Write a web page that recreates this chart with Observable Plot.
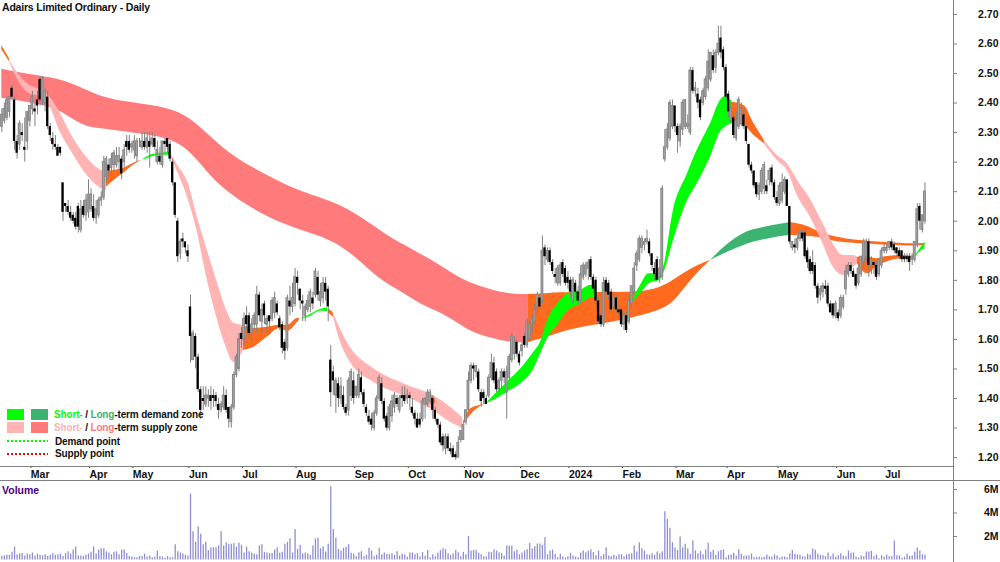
<!DOCTYPE html>
<html><head><meta charset="utf-8">
<script src="https://cdn.jsdelivr.net/npm/d3@7"></script>
<script src="https://cdn.jsdelivr.net/npm/@observablehq/plot@0.6"></script>
<style>
html,body{margin:0;padding:0;background:#fff;width:1000px;height:562px;overflow:hidden}
#wrap{position:relative;width:1000px;height:562px;font:bold 10px "Liberation Sans",Arial,sans-serif;color:#111}
#wrap svg{display:block;background:transparent}
.abs{position:absolute;white-space:nowrap;line-height:12px}
.sw{position:absolute;width:17px;height:11px}
.dot{position:absolute;width:41px;height:2px}
</style></head><body><div id="wrap"></div>
<script>
const title = "Adairs Limited Ordinary - Daily";
const monthLabels = ["Mar","Apr","May","Jun","Jul","Aug","Sep","Oct","Nov","Dec","2024","Feb","Mar","Apr","May","Jun","Jul"];
const monthBars = [11,34,51,73,94,115,138,159,181,203,222,243,264,284,304,327,346];
const priceTicks = [1.2,1.3,1.4,1.5,1.6,1.7,1.8,1.9,2.0,2.1,2.2,2.3,2.4,2.5,2.6,2.7];
const volumeTicks = [2,4,6];

const opens = [
2.32,2.34,2.35,2.37,2.45,2.41,2.27,2.26,2.30,2.25,2.27,
2.34,2.38,2.38,2.41,2.48,2.41,2.40,2.42,2.32,2.28,2.26,2.25,2.25,2.13,2.06,2.05,2.03,2.02,2.01,2.05,1.97,2.05,2.02,
2.03,2.04,2.05,2.01,2.02,2.07,2.08,2.15,2.19,2.18,2.19,2.19,2.20,2.21,2.20,2.27,2.27,
2.25,2.24,2.22,2.27,2.25,2.27,2.25,2.27,2.26,2.28,2.20,2.22,2.19,2.27,2.28,2.26,2.20,2.13,2.00,1.89,1.94,1.93,
1.90,1.71,1.53,1.61,1.54,1.43,1.40,1.38,1.40,1.41,1.41,1.41,1.38,1.36,1.37,1.41,1.37,1.32,1.37,1.48,1.50,
1.62,1.60,1.68,1.68,1.62,1.65,1.65,1.75,1.66,1.72,1.65,1.68,1.67,1.69,1.72,1.67,1.65,1.59,1.57,1.73,1.71,
1.72,1.81,1.77,1.73,1.68,1.70,1.71,1.74,1.75,1.81,1.73,1.74,1.79,1.77,1.53,1.49,1.41,1.45,1.40,1.41,1.37,1.36,1.41,
1.46,1.41,1.41,1.47,1.42,1.37,1.34,1.33,1.30,1.35,1.40,1.45,1.39,1.34,1.30,1.34,1.37,1.40,1.36,1.41,1.41,
1.40,1.41,1.37,1.35,1.33,1.33,1.33,1.38,1.38,1.39,1.40,1.36,1.33,1.31,1.27,1.23,1.27,1.23,1.23,1.21,1.20,1.26,
1.26,1.32,1.36,1.46,1.51,1.49,1.49,1.42,1.42,1.40,1.41,1.47,1.52,1.49,1.43,1.46,1.49,1.42,1.47,1.53,1.55,1.59,
1.55,1.56,1.61,1.58,1.60,1.65,1.66,1.71,1.74,1.73,1.91,1.87,1.90,1.86,1.82,1.79,1.79,1.86,1.84,
1.81,1.80,1.73,1.79,1.76,1.73,1.81,1.82,1.84,1.87,1.81,1.80,1.73,1.68,1.65,1.80,1.79,1.76,1.71,1.74,1.70,
1.70,1.65,1.68,1.66,1.72,1.76,1.85,1.87,1.91,1.92,1.93,1.93,1.89,1.84,1.87,1.81,1.81,2.21,2.25,2.28,2.32,
2.39,2.32,2.27,2.31,2.32,2.32,2.30,2.51,2.44,2.43,2.41,2.40,2.42,2.45,2.48,2.56,2.52,2.57,2.62,2.58,
2.52,2.43,2.34,2.35,2.28,2.32,2.33,2.36,2.32,2.26,2.19,2.17,2.13,2.09,2.10,2.11,2.12,2.14,2.18,2.13,
2.08,2.06,2.07,2.10,2.14,2.05,1.91,1.92,1.91,1.94,1.96,1.96,1.90,1.87,1.86,1.85,1.78,1.75,1.76,1.78,1.78,1.72,1.72,
1.68,1.69,1.68,1.71,1.77,1.82,1.85,1.83,1.82,1.79,1.82,1.86,1.88,1.93,1.85,1.86,1.85,1.82,1.85,
1.90,1.90,1.91,1.93,1.92,1.91,1.90,1.90,1.88,1.88,1.88,1.87,1.87,1.92,2.05,1.97,2.00];
const highs = [
2.38,2.40,2.42,2.42,2.46,2.42,2.29,2.34,2.33,2.35,2.37,
2.39,2.44,2.40,2.44,2.49,2.49,2.45,2.44,2.33,2.30,2.29,2.26,2.25,2.13,2.06,2.07,2.05,2.03,2.03,2.06,2.07,2.07,2.09,
2.14,2.11,2.09,2.07,2.08,2.10,2.22,2.22,2.21,2.23,2.24,2.25,2.25,2.22,2.26,2.29,2.29,
2.27,2.29,2.28,2.28,2.30,2.30,2.30,2.30,2.30,2.29,2.27,2.25,2.27,2.28,2.28,2.27,2.21,2.13,2.01,1.94,1.96,1.93,
1.92,1.75,1.63,1.62,1.55,1.44,1.44,1.44,1.43,1.44,1.43,1.42,1.40,1.39,1.44,1.43,1.37,1.38,1.49,1.55,1.62,
1.64,1.69,1.71,1.69,1.67,1.69,1.78,1.76,1.72,1.73,1.68,1.68,1.74,1.76,1.73,1.68,1.66,1.60,1.75,1.78,1.79,
1.84,1.83,1.77,1.75,1.72,1.75,1.77,1.76,1.84,1.83,1.79,1.81,1.81,1.78,1.58,1.51,1.47,1.47,1.47,1.44,1.38,1.47,1.50,
1.49,1.44,1.50,1.49,1.43,1.38,1.36,1.35,1.36,1.41,1.48,1.47,1.40,1.35,1.38,1.41,1.42,1.41,1.41,1.44,1.44,
1.43,1.42,1.40,1.36,1.35,1.35,1.40,1.40,1.43,1.43,1.41,1.37,1.33,1.32,1.28,1.28,1.28,1.25,1.24,1.22,1.27,1.29,
1.31,1.36,1.49,1.52,1.52,1.51,1.50,1.43,1.43,1.41,1.48,1.55,1.54,1.50,1.47,1.50,1.50,1.51,1.55,1.62,1.61,1.60,
1.56,1.59,1.62,1.67,1.66,1.68,1.72,1.76,1.75,1.95,1.92,1.91,1.91,1.87,1.84,1.85,1.86,1.87,1.85,
1.83,1.81,1.81,1.80,1.78,1.85,1.86,1.86,1.87,1.88,1.82,1.81,1.74,1.69,1.81,1.81,1.80,1.77,1.76,1.75,1.71,
1.71,1.69,1.69,1.75,1.78,1.86,1.90,1.95,1.95,1.94,1.97,1.94,1.89,1.86,1.88,1.87,2.12,2.31,2.33,2.41,2.41,
2.39,2.33,2.33,2.41,2.41,2.36,2.52,2.52,2.47,2.45,2.42,2.45,2.49,2.58,2.57,2.58,2.58,2.66,2.66,2.59,
2.53,2.44,2.40,2.37,2.37,2.42,2.40,2.38,2.32,2.26,2.20,2.17,2.13,2.13,2.18,2.20,2.14,2.18,2.19,2.14,
2.10,2.13,2.16,2.15,2.14,2.05,1.93,1.94,1.95,1.97,1.97,1.97,1.91,1.88,1.90,1.86,1.79,1.78,1.79,1.80,1.79,1.73,1.72,
1.73,1.70,1.75,1.75,1.85,1.86,1.86,1.84,1.82,1.85,1.88,1.94,1.94,1.94,1.88,1.87,1.86,1.87,1.91,
1.92,1.92,1.93,1.94,1.93,1.91,1.91,1.90,1.89,1.89,1.89,1.89,1.93,2.06,2.06,2.02,2.13];
const lows = [
2.30,2.33,2.34,2.35,2.41,2.24,2.21,2.24,2.27,2.20,2.24,
2.32,2.36,2.32,2.36,2.39,2.39,2.37,2.31,2.27,2.24,2.24,2.22,2.22,2.00,2.03,2.02,2.00,1.99,1.97,1.96,1.96,2.01,2.00,
2.01,2.03,2.00,1.99,2.01,2.05,2.07,2.13,2.15,2.16,2.17,2.18,2.17,2.14,2.18,2.22,2.23,
2.23,2.21,2.20,2.25,2.24,2.24,2.23,2.18,2.25,2.24,2.19,2.19,2.18,2.23,2.23,2.20,2.12,2.01,1.86,1.87,1.91,1.89,
1.86,1.52,1.53,1.50,1.42,1.33,1.36,1.37,1.37,1.36,1.37,1.37,1.33,1.35,1.36,1.35,1.30,1.30,1.36,1.47,1.49,
1.57,1.58,1.63,1.60,1.59,1.63,1.62,1.66,1.62,1.65,1.62,1.62,1.66,1.67,1.68,1.63,1.55,1.53,1.56,1.68,1.69,
1.71,1.75,1.70,1.66,1.66,1.69,1.69,1.70,1.74,1.73,1.71,1.72,1.73,1.66,1.37,1.41,1.35,1.37,1.38,1.36,1.34,1.34,1.39,
1.38,1.40,1.40,1.41,1.37,1.34,1.31,1.29,1.29,1.34,1.39,1.38,1.32,1.29,1.29,1.32,1.35,1.37,1.35,1.37,1.38,
1.38,1.36,1.34,1.31,1.30,1.30,1.32,1.33,1.37,1.38,1.33,1.32,1.30,1.24,1.22,1.21,1.22,1.21,1.20,1.19,1.20,1.25,
1.26,1.31,1.36,1.45,1.46,1.47,1.42,1.37,1.38,1.38,1.40,1.46,1.45,1.42,1.42,1.43,1.45,1.33,1.46,1.52,1.53,1.54,
1.51,1.54,1.57,1.57,1.59,1.62,1.65,1.68,1.70,1.72,1.85,1.86,1.85,1.82,1.79,1.78,1.78,1.81,1.78,
1.77,1.74,1.72,1.74,1.72,1.72,1.80,1.81,1.80,1.80,1.75,1.71,1.65,1.64,1.64,1.75,1.73,1.69,1.70,1.69,1.68,
1.64,1.63,1.62,1.65,1.71,1.75,1.83,1.86,1.89,1.90,1.92,1.88,1.83,1.80,1.80,1.79,1.80,2.20,2.24,2.27,2.31,
2.30,2.23,2.25,2.29,2.31,2.31,2.29,2.43,2.42,2.38,2.34,2.39,2.41,2.44,2.47,2.50,2.50,2.56,2.55,2.51,
2.41,2.35,2.33,2.28,2.27,2.31,2.32,2.31,2.26,2.18,2.16,2.11,2.08,2.07,2.09,2.09,2.09,2.12,2.12,2.07,
2.05,2.05,2.06,2.09,2.05,1.92,1.90,1.89,1.90,1.93,1.93,1.87,1.84,1.82,1.82,1.77,1.72,1.73,1.74,1.75,1.71,1.69,1.67,
1.67,1.66,1.67,1.70,1.75,1.81,1.82,1.81,1.77,1.78,1.81,1.84,1.86,1.81,1.82,1.82,1.80,1.81,1.84,
1.89,1.89,1.90,1.90,1.89,1.88,1.87,1.86,1.86,1.86,1.83,1.85,1.86,1.91,1.97,1.96,1.99];
const closes = [
2.36,2.38,2.41,2.42,2.42,2.27,2.23,2.33,2.29,2.24,2.37,
2.39,2.42,2.37,2.39,2.41,2.48,2.44,2.32,2.29,2.26,2.25,2.22,2.23,2.03,2.05,2.03,2.01,2.00,1.98,1.98,2.04,2.02,2.07,
2.09,2.09,2.01,2.04,2.07,2.08,2.20,2.21,2.17,2.21,2.23,2.22,2.22,2.16,2.24,2.25,2.24,
2.26,2.27,2.27,2.27,2.27,2.25,2.28,2.25,2.28,2.25,2.24,2.20,2.27,2.26,2.25,2.21,2.13,2.02,1.88,1.93,1.93,1.91,
1.88,1.61,1.62,1.54,1.43,1.36,1.39,1.41,1.41,1.39,1.40,1.39,1.36,1.38,1.41,1.36,1.33,1.37,1.48,1.54,1.60,
1.60,1.67,1.65,1.62,1.65,1.68,1.75,1.68,1.70,1.68,1.67,1.66,1.73,1.74,1.69,1.64,1.57,1.56,1.74,1.71,1.74,
1.81,1.79,1.73,1.72,1.71,1.73,1.76,1.72,1.83,1.75,1.76,1.79,1.76,1.71,1.42,1.46,1.46,1.40,1.44,1.37,1.35,1.46,1.49,
1.40,1.44,1.48,1.42,1.38,1.35,1.32,1.31,1.35,1.40,1.47,1.39,1.33,1.30,1.37,1.39,1.41,1.38,1.40,1.40,1.39,
1.41,1.40,1.35,1.33,1.30,1.31,1.39,1.40,1.42,1.42,1.36,1.33,1.31,1.25,1.24,1.27,1.23,1.22,1.20,1.20,1.25,1.29,
1.31,1.36,1.46,1.51,1.50,1.51,1.43,1.39,1.40,1.38,1.47,1.52,1.46,1.43,1.46,1.49,1.47,1.49,1.54,1.61,1.59,1.55,
1.52,1.58,1.58,1.66,1.65,1.67,1.70,1.75,1.71,1.90,1.88,1.90,1.86,1.83,1.81,1.84,1.85,1.82,1.79,
1.79,1.76,1.80,1.76,1.73,1.82,1.85,1.85,1.86,1.81,1.77,1.73,1.66,1.65,1.79,1.76,1.75,1.70,1.74,1.70,1.69,
1.65,1.68,1.63,1.73,1.78,1.84,1.89,1.94,1.94,1.93,1.94,1.89,1.85,1.82,1.80,1.84,2.11,2.25,2.31,2.40,2.39,
2.32,2.29,2.32,2.40,2.41,2.33,2.51,2.44,2.45,2.40,2.35,2.44,2.48,2.54,2.57,2.51,2.57,2.60,2.57,2.52,
2.42,2.37,2.38,2.29,2.34,2.41,2.38,2.32,2.27,2.19,2.17,2.12,2.09,2.12,2.17,2.19,2.10,2.17,2.13,2.08,
2.06,2.12,2.13,2.14,2.05,1.93,1.93,1.91,1.94,1.96,1.94,1.88,1.86,1.83,1.83,1.78,1.74,1.77,1.78,1.77,1.72,1.69,1.68,
1.72,1.67,1.74,1.74,1.83,1.85,1.83,1.81,1.78,1.84,1.88,1.93,1.93,1.85,1.87,1.85,1.81,1.87,1.90,
1.91,1.91,1.93,1.91,1.90,1.89,1.88,1.87,1.87,1.87,1.86,1.88,1.93,2.04,2.00,2.02,2.10];
const volumes = [
.3,.35,.4,.4,.65,1.1,.45,.5,.55,.35,.5,
.45,.6,.35,.5,.4,.35,.45,.3,.4,.55,.4,.45,.5,.3,.55,.7,.5,.85,1.1,.35,.35,.3,.4,
.5,.65,1.1,.5,.85,.95,.95,.7,.6,.45,.65,.7,.45,.85,.85,.55,.3,
.25,.2,.2,.3,.3,.5,.25,.35,.2,.25,.75,.3,.25,.15,.3,.2,.2,1.3,.7,.6,.5,.4,
.35,5.6,2.4,1.5,2.8,2.2,1.3,1.5,.8,1.05,1.05,1.05,1.2,2.4,1.2,1.45,1.35,1.35,1.4,1.1,1.45,
1.25,.6,1.1,.7,.6,.5,.45,1.2,1.3,.65,.6,.55,.55,.85,1.05,.6,.65,1.35,1.5,1.8,.6,
2.6,.9,1.25,.5,.6,.5,.4,1.2,1.8,1.85,.96,1.13,.68,1.33,6.24,2.6,1.85,.9,.77,1.0,1.08,1.3,.57,
.48,.28,.62,.7,.28,.4,1.0,.77,.28,.4,1.0,.45,.6,.48,.45,.54,.4,.7,.34,.48,.43,
.23,.6,.6,.45,.54,.28,.62,.31,.8,.2,.45,.28,.57,.8,.96,.88,.54,.37,.54,.8,.62,.28,
.65,.45,2.0,.77,.82,.82,.57,.45,.28,.25,.65,.62,.88,.77,.6,.54,.34,1.2,1.2,1.2,.7,.82,
.45,.6,.77,.88,1.4,.94,1.13,1.36,1.36,1.25,1.9,.45,.74,.85,.48,.2,.48,.25,.17,
.28,.57,.34,.25,.2,.6,.77,.62,.74,.88,.62,.37,.77,.28,.45,1.05,.34,.28,.4,.28,.45,
.45,.28,.45,.48,.54,1.2,.68,1.47,.96,.77,.45,.4,.54,.4,.68,.54,.7,4.11,3.46,2.7,1.47,
1.02,.82,1.96,1.05,1.33,.96,.48,1.62,.77,.54,.74,.45,.85,1.42,.65,.82,.4,.7,.8,.85,
.2,.4,.43,.57,.34,.88,.48,.31,.34,.37,.51,.2,.2,.25,.2,.23,.43,.28,.23,.43,
.34,.17,.25,.25,.2,.51,.82,.48,.43,.4,.28,.25,.51,.43,.94,.82,.48,.4,.37,.28,.6,.28,.51,
.23,.37,.54,.31,.28,.77,.57,.6,.25,.17,.34,.28,.68,.68,.74,.28,.43,.11,.37,
.25,.43,.28,.28,1.62,.37,.34,.14,.25,.51,.31,.37,.68,1.02,.77,.45,.4];

// zones: [bar, lower price, upper price]
const longSupply = [[0,2.416,2.514],[12,2.40,2.494],[22,2.382,2.483],[32,2.318,2.45],[39,2.314,2.419],[52,2.297,2.399],[65,2.284,2.385],[74,2.24,2.351],[82,2.148,2.284],[91,2.081,2.216],[104,2.013,2.155],[117,1.969,2.098],[133,1.928,2.06],[146,1.817,1.983],[154,1.773,1.935],[159,1.749,1.915],[165,1.715,1.884],[172,1.692,1.851],[179,1.654,1.81],[185,1.62,1.786],[195,1.597,1.759],[202,1.587,1.752],[206.5,1.59,1.752]];
const longMixedA = [[206.5,1.59,1.752],[214,1.607,1.756],[224,1.638,1.759],[238,1.654,1.759],[250,1.678,1.759],[258,1.698,1.773],[263.5,1.722,1.80],[271,1.81,1.844],[278,1.868,1.868]];
const longDemand = [[278,1.868,1.868],[284.6,1.895,1.925],[292.4,1.925,1.969],[297.5,1.935,1.976],[302.6,1.945,1.986],[309.3,1.952,1.996]];
const longMixedB = [[309.3,1.952,1.996],[316,1.949,1.986],[321,1.945,1.959],[328,1.928,1.945],[334,1.925,1.935],[347.3,1.918,1.928],[357.5,1.915,1.922],[362,1.918,1.925]];
const shortMixed = [
 [[0,2.58,2.595],[3,2.54,2.55]],
 [[41,2.115,2.17],[44,2.138,2.172],[47.8,2.162,2.179],[51.7,2.19,2.196],[55,2.206,2.206]],
 [[94.8,1.563,1.648],[98.7,1.573,1.637],[104,1.607,1.641],[109,1.637,1.648],[112,1.627,1.648],[116,1.658,1.671],[117,1.668,1.668]],
 [[128,1.69,1.705],[130,1.675,1.69]],
 [[168,1.405,1.411],[170,1.38,1.40]],
 [[181,1.309,1.32],[183.8,1.343,1.365],[187.7,1.373,1.377],[190,1.382,1.382]],
 [[286.5,2.33,2.403],[291,2.324,2.392],[295,2.29,2.33],[299,2.262,2.274]],
 [[335.5,1.855,1.878],[339.5,1.822,1.879],[343,1.845,1.873],[347,1.862,1.881],[353.5,1.873,1.884],[357.5,1.873,1.881]]
];
const shortSupply = [
 [[3,2.54,2.545],[6,2.483,2.504],[10,2.436,2.466],[15.2,2.419,2.443],[19,2.385,2.419],[23,2.30,2.365],[27,2.24,2.297],[32,2.172,2.23],[39,2.111,2.172],[41,2.104,2.165]],
 [[66,2.223,2.233],[69,2.165,2.189],[73,2.077,2.131],[76.7,1.962,2.013],[80.6,1.80,1.901],[84.6,1.665,1.79],[87.7,1.58,1.708],[91,1.522,1.655],[94.8,1.563,1.648]],
 [[130,1.675,1.69],[133,1.587,1.631],[136.7,1.522,1.573],[145.8,1.455,1.502],[159,1.404,1.445],[169,1.36,1.411],[176,1.319,1.37],[180.7,1.299,1.336]],
 [[299,2.262,2.274],[304,2.206,2.223],[308,2.172,2.195],[312,2.087,2.138],[317,2.014,2.076],[322,1.924,1.992],[326,1.845,1.924],[330,1.817,1.884],[334,1.845,1.884],[335.5,1.855,1.878]]
];
const shortDemand = [
 [[55,2.206,2.206],[58.3,2.216,2.223],[62,2.223,2.23],[66,2.223,2.233]],
 [[117,1.668,1.668],[121,1.678,1.684],[125,1.695,1.701],[127.7,1.694,1.707]],
 [[190,1.382,1.382],[193,1.394,1.41],[198.3,1.422,1.456],[203.5,1.45,1.50],[208.6,1.50,1.557],[211,1.546,1.585],[214,1.602,1.664],[218,1.65,1.72],[222,1.695,1.755],[227,1.72,1.766],[231.2,1.74,1.783],[233,1.74,1.78]],
 [[247,1.725,1.73],[250.5,1.755,1.783],[253.7,1.788,1.822],[258,1.80,1.822],[259.5,1.822,1.845],[263.4,1.935,2.037],[268.9,2.07,2.161],[272.7,2.127,2.24],[277.9,2.217,2.33],[281.8,2.302,2.409],[283.8,2.319,2.422],[286.5,2.33,2.403]],
 [[358,1.875,1.88],[360,1.896,1.905],[362,1.907,1.93]]
];

const colors = {shortDemand:"#00ff00", longDemand:"#3cb371", shortSupply:"#ffb3b3", longSupply:"#ff7a7a", mixed:"#ff6a1e", up:"#868686", down:"#000000", wick:"#808080", volume:"#8f8fd0", axis:"#808080"};

const bars = d3.range(closes.length);
const zone = (pts, fill, curve="monotone-x") => Plot.areaY(pts, {x:d=>d[0], y1:d=>d[1], y2:d=>d[2], fill, curve});
const isUp = i => closes[i] >= opens[i];

const xOpts = {domain:[-0.51,373.2], range:[0,953], axis:null};
const font = '"Liberation Sans",Arial,sans-serif';

const price = Plot.plot({
  width:1000, height:481, marginTop:0, marginBottom:15, marginLeft:0, marginRight:47,
  style:{background:"transparent", fontFamily:font, fontSize:"10.5px", fontWeight:"bold", color:"#111"},
  x:xOpts,
  y:{domain:[1.170,2.747], range:[466,0], axis:null},
  marks:[
    zone(longSupply, colors.longSupply, "basis"),
    zone(longMixedA, colors.mixed, "basis"),
    zone(longDemand, colors.longDemand, "basis"),
    zone(longMixedB, colors.mixed, "basis"),
    ...shortSupply.map(z=>zone(z, colors.shortSupply)),
    ...shortMixed.map(z=>zone(z, colors.mixed)),
    ...shortDemand.map(z=>zone(z, colors.shortDemand)),
    Plot.ruleX(bars, {x:i=>i, y1:i=>lows[i], y2:i=>highs[i], stroke:colors.wick, strokeWidth:1}),
    Plot.rect(bars.filter(isUp), {x1:i=>i-0.36, x2:i=>i+0.36, y1:i=>opens[i], y2:i=>closes[i], fill:"#a8a8a8", stroke:colors.up, strokeWidth:1}),
    Plot.rect(bars.filter(i=>!isUp(i)), {x1:i=>i-0.45, x2:i=>i+0.45, y1:i=>opens[i], y2:i=>closes[i], fill:colors.down}),
    Plot.axisY(priceTicks, {anchor:"right", tickSize:3, tickPadding:42, textAnchor:"end", tickFormat:d=>d.toFixed(2), stroke:colors.axis, fill:"#111"}),
    Plot.axisX(monthBars, {anchor:"bottom", tickSize:2, tickPadding:2, textAnchor:"start", dx:1, tickFormat:d=>monthLabels[monthBars.indexOf(d)], stroke:"#333", fill:"#111"}),
    Plot.ruleY([1.170], {stroke:colors.axis, strokeWidth:1.2})
  ]
});

const volume = Plot.plot({
  width:1000, height:81, marginTop:0, marginBottom:2.5, marginLeft:0, marginRight:47,
  style:{background:"transparent", fontFamily:font, fontSize:"10.5px", fontWeight:"bold", color:"#111"},
  x:xOpts,
  y:{domain:[0,6.68], range:[78.5,0], axis:null},
  marks:[
    Plot.ruleX(bars, {x:i=>i, y1:0, y2:i=>volumes[i], stroke:colors.volume, strokeWidth:1.3}),
    Plot.axisY(volumeTicks, {anchor:"right", tickSize:3, tickPadding:42, textAnchor:"end", tickFormat:d=>d+"M", stroke:colors.axis, fill:"#111"})
  ]
});

const wrap = document.getElementById("wrap");
wrap.append(price, volume);

function html(tag, cls, css, h){const e=document.createElement(tag);e.className=cls;e.style.cssText=css;if(h)e.innerHTML=h;wrap.append(e);return e;}
const dots = c => `background:repeating-linear-gradient(90deg,${c} 0 2px,transparent 2px 4px)`;
html("div","abs","left:952.5px;top:0;width:1px;height:562px;background:"+colors.axis);
html("div","abs","left:0;top:480px;width:1000px;height:1px;background:"+colors.axis);
html("div","abs","left:2px;top:1px;font-size:10.5px;letter-spacing:-.2px",title);
html("div","abs","left:2px;top:484px;font-size:10.5px;color:#4b0082","Volume");
html("div","sw","left:7px;top:408.5px;background:"+colors.shortDemand);
html("div","sw","left:31px;top:408.5px;background:"+colors.longDemand);
html("div","sw","left:7px;top:422px;background:"+colors.shortSupply);
html("div","sw","left:31px;top:422px;background:"+colors.longSupply);
html("div","dot","left:7px;top:440px;"+dots(colors.shortDemand));
html("div","dot","left:7px;top:453px;"+dots("#ff0000"));
const lg = "font-size:10px;letter-spacing:-.15px;";
html("div","abs",lg+"left:54px;top:409px",`<span style="color:${colors.shortDemand}">Short-</span> / <span style="color:${colors.longDemand}">Long</span>-term demand zone`);
html("div","abs",lg+"left:54px;top:422px",`<span style="color:${colors.shortSupply}">Short-</span> / <span style="color:${colors.longSupply}">Long</span>-term supply zone`);
html("div","abs",lg+"left:55px;top:436px","Demand point");
html("div","abs",lg+"left:55px;top:448px","Supply point");
</script></body></html>
